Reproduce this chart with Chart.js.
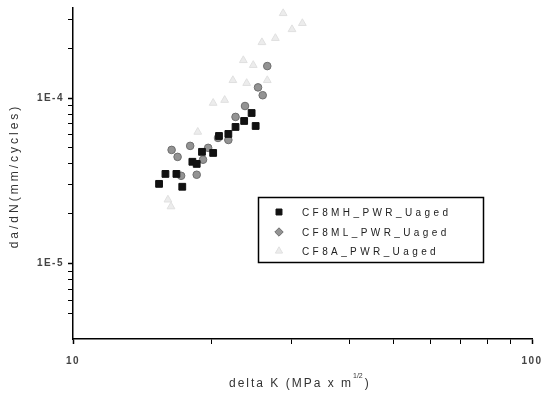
<!DOCTYPE html>
<html>
<head>
<meta charset="utf-8">
<script src="https://cdn.jsdelivr.net/npm/chart.js@4.4.0/dist/chart.umd.min.js"></script>
<style>
    html, body { margin: 0; padding: 0; background: #fff; }
    #wrap { width: 542px; height: 395px; position: relative; }
</style>
</head>
<body>
<div id="wrap"><canvas id="fcgChart"></canvas></div>
<script>
// ─── Data (delta K in MPa·m^1/2, da/dN in mm/cycle) ───────────
const seriesNames = ['CF8MH_PWR_Uaged', 'CF8ML_PWR_Uaged', 'CF8A_PWR_Uaged'];

const mhDeltaK = [15.4, 15.9, 16.8, 17.3, 18.2, 18.6, 19.1, 20.2, 20.8, 21.8, 22.6, 23.6, 24.5, 25.0];
const mhRate   = [3.03e-5, 3.48e-5, 3.48e-5, 2.91e-5, 4.12e-5, 4.0e-5, 4.73e-5, 4.66e-5, 5.9e-5, 6.07e-5, 6.69e-5, 7.27e-5, 8.12e-5, 6.78e-5];

const mlDeltaK = [16.4, 16.9, 17.2, 18.0, 18.6, 19.2, 19.7, 20.7, 21.8, 22.6, 23.7, 25.3, 25.9, 26.5];
const mlRate   = [4.86e-5, 4.41e-5, 3.39e-5, 5.14e-5, 3.44e-5, 4.24e-5, 5.0e-5, 5.74e-5, 5.58e-5, 7.69e-5, 8.95e-5, 1.16e-4, 1.04e-4, 1.56e-4];

const aDeltaK  = [16.1, 16.35, 18.7, 20.2, 21.4, 22.3, 23.5, 23.9, 24.7, 25.8, 26.5, 27.6, 28.7, 30.0, 31.6];
const aRate    = [2.43e-5, 2.21e-5, 6.24e-5, 9.33e-5, 9.72e-5, 1.28e-4, 1.69e-4, 1.23e-4, 1.58e-4, 2.17e-4, 1.28e-4, 2.30e-4, 3.25e-4, 2.60e-4, 2.83e-4];

const xLabelVals = [10, 100];
const xLabelText = ['10', '100'];
const yLabelVals = [1e-5, 1e-4];
const yLabelText = ['1E-5', '1E-4'];

const FONT = "'Liberation Sans', Arial, sans-serif";

const toPoints = (xs, ys) => xs.map((x, i) => ({ x, y: ys[i] }));

function labelFor(v, vals, texts) {
    const i = vals.findIndex(t => Math.abs(Math.log10(v) - Math.log10(t)) < 1e-6);
    return i < 0 ? '' : texts[i];
}

// keep only 1..9 x 10^n ticks (drop the odd min/max bounds)
function keepDecadeTicks(scale) {
    scale.ticks = scale.ticks.filter(t => {
        const e = Math.floor(Math.log10(t.value) + 1e-9);
        const m = t.value / Math.pow(10, e);
        return Math.abs(m - Math.round(m)) < 1e-6;
    });
}

// ─── Titles + boxed legend drawn on the canvas ────────────────
const framePlugin = {
    id: 'frame',
    beforeDraw(chart) { chart.ctx.letterSpacing = '1.5px'; },
    afterDraw(chart) {
        const ctx = chart.ctx;
        ctx.save();
        ctx.fillStyle = '#333';
        ctx.textBaseline = 'middle';

        // y title
        ctx.save();
        ctx.translate(15, 176);
        ctx.rotate(-Math.PI / 2);
        ctx.font = `12px ${FONT}`;
        ctx.letterSpacing = '3px';
        ctx.textAlign = 'center';
        ctx.fillText('da/dN(mm/cycles)', 0, 0);
        ctx.restore();

        // x title with superscript
        ctx.font = `12px ${FONT}`;
        ctx.letterSpacing = '2px';
        ctx.textAlign = 'left';
        const main = 'delta K (MPa x m';
        const x0 = 229;
        ctx.fillText(main, x0, 384);
        const w = ctx.measureText(main).width;
        ctx.font = `7px ${FONT}`;
        ctx.letterSpacing = '0px';
        ctx.fillText('1/2', x0 + w, 376);
        const ws = ctx.measureText('1/2').width;
        ctx.font = `12px ${FONT}`;
        ctx.fillText(')', x0 + w + ws + 2, 384);

        // legend
        ctx.strokeStyle = '#000';
        ctx.lineWidth = 1.5;
        ctx.strokeRect(258.5, 197.5, 225, 65);
        const rows = [212, 232, 251];
        const legendStyles = ['rect', 'rectRot', 'triangle'];
        chart.data.datasets.forEach((ds, i) => {
            ctx.fillStyle = ds.backgroundColor;
            ctx.strokeStyle = ds.borderColor;
            ctx.lineWidth = 1;
            Chart.helpers.drawPoint(ctx, { pointStyle: legendStyles[i], radius: 4.2, rotation: 0, borderWidth: 1 }, 279, rows[i]);
            ctx.fillStyle = '#222';
            ctx.font = `10px ${FONT}`;
            ctx.letterSpacing = '3.4px';
            ctx.textAlign = 'left';
            ctx.fillText(ds.label, 302, rows[i] + 1);
        });

        ctx.restore();
        ctx.letterSpacing = '0px';
    }
};

const axisGrid = {
    display: true,
    drawOnChartArea: false,
    drawTicks: true,
    tickLength: 5,
    color: '#000',
    tickWidth: c => (c.tick && c.tick.major ? 1.5 : 1)
};

new Chart(document.getElementById('fcgChart'), {
    type: 'scatter',
    data: {
        datasets: [
            {
                label: seriesNames[0],
                data: toPoints(mhDeltaK, mhRate),
                pointStyle: 'rect',
                pointRadius: 4.8,
                backgroundColor: '#111',
                borderColor: '#111',
                borderWidth: 1
            },
            {
                label: seriesNames[1],
                data: toPoints(mlDeltaK, mlRate),
                pointStyle: 'circle',
                pointRadius: 3.8,
                backgroundColor: '#939393',
                borderColor: '#6f6f6f',
                borderWidth: 1
            },
            {
                label: seriesNames[2],
                data: toPoints(aDeltaK, aRate),
                pointStyle: 'triangle',
                pointRadius: 4.5,
                backgroundColor: '#ececec',
                borderColor: '#e0e0e0',
                borderWidth: 1
            }
        ]
    },
    options: {
        responsive: true,
        maintainAspectRatio: false,
        animation: false,
        events: [],
        layout: { padding: { top: 8, right: 10, left: 0, bottom: 0 } },
        plugins: {
            legend:  { display: false },
            tooltip: { enabled: false }
        },
        scales: {
            x: {
                type: 'logarithmic',
                min: 10,
                max: 100,
                afterBuildTicks: keepDecadeTicks,
                afterFit: s => { s.height = 56; s.paddingLeft = 0; s.paddingRight = 0; },
                grid: axisGrid,
                border: { display: true, color: '#000', width: 1.5 },
                ticks: {
                    autoSkip: false,
                    maxRotation: 0,
                    padding: 11,
                    color: '#444',
                    font: { family: FONT, size: 10, weight: 'bold' },
                    callback: v => labelFor(v, xLabelVals, xLabelText)
                }
            },
            y: {
                type: 'logarithmic',
                min: 3.5e-6,
                max: 3.5e-4,
                afterBuildTicks: keepDecadeTicks,
                afterFit: s => { s.width = 73; s.paddingTop = 0; s.paddingBottom = 0; },
                grid: axisGrid,
                border: { display: true, color: '#000', width: 1.5 },
                ticks: {
                    autoSkip: false,
                    padding: 4,
                    color: '#444',
                    font: { family: FONT, size: 10, weight: 'bold' },
                    callback: v => labelFor(v, yLabelVals, yLabelText)
                }
            }
        }
    },
    plugins: [framePlugin]
});
</script>
</body>
</html>
